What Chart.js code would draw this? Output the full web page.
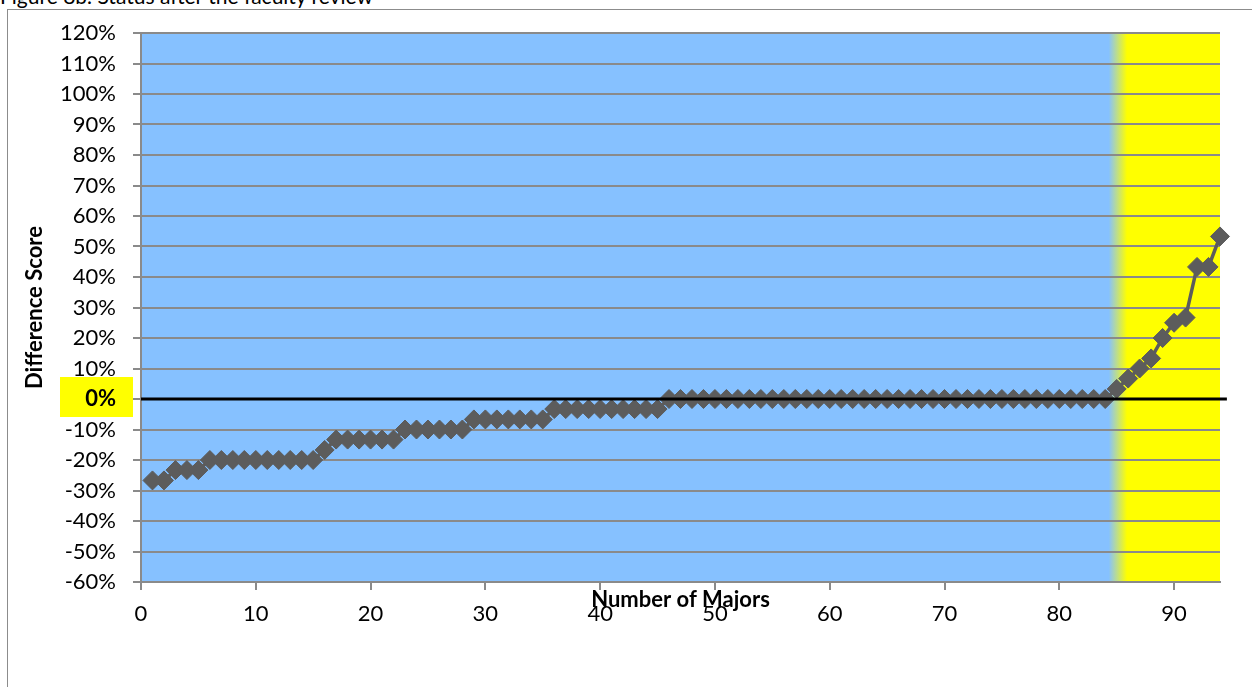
<!DOCTYPE html>
<html>
<head>
<meta charset="utf-8">
<title>Figure 8b. Status after the faculty review</title>
<script src="https://cdn.jsdelivr.net/npm/chart.js@4/dist/chart.umd.min.js"></script>
<style>
  html, body { margin: 0; padding: 0; background: #fff; width: 1252px; height: 687px; overflow: hidden; }
  #caption { position: absolute; left: 0; top: -17px; font: 21px Lato, "Open Sans", sans-serif; color: #000; white-space: nowrap; }
  #frame { position: absolute; left: 7px; top: 9px; width: 1300px; height: 760px; border: 1px solid #8c8c8c; background: #fff; }
  #c { position: absolute; left: 0; top: 0; }
</style>
</head>
<body>
<div id="caption">Figure 8b. Status after the faculty review</div>
<div id="frame"></div>
<canvas id="c" width="1252" height="687"></canvas>
<script>
// Majors, ranked by difference score
const majors = [
  1, 2, 3, 4, 5, 6, 7, 8, 9, 10,
  11, 12, 13, 14, 15, 16, 17, 18, 19, 20,
  21, 22, 23, 24, 25, 26, 27, 28, 29, 30,
  31, 32, 33, 34, 35, 36, 37, 38, 39, 40,
  41, 42, 43, 44, 45, 46, 47, 48, 49, 50,
  51, 52, 53, 54, 55, 56, 57, 58, 59, 60,
  61, 62, 63, 64, 65, 66, 67, 68, 69, 70,
  71, 72, 73, 74, 75, 76, 77, 78, 79, 80,
  81, 82, 83, 84, 85, 86, 87, 88, 89, 90,
  91, 92, 93, 94
];

// Difference score per major, in percent
const scores = [
  -26.7, -26.7, -23.3, -23.3, -23.3, -20, -20, -20, -20, -20,
  -20, -20, -20, -20, -20, -16.7, -13.3, -13.3, -13.3, -13.3,
  -13.3, -13.3, -10, -10, -10, -10, -10, -10, -6.7, -6.7,
  -6.7, -6.7, -6.7, -6.7, -6.7, -3.3, -3.3, -3.3, -3.3, -3.3,
  -3.3, -3.3, -3.3, -3.3, -3.3, 0, 0, 0, 0, 0,
  0, 0, 0, 0, 0, 0, 0, 0, 0, 0,
  0, 0, 0, 0, 0, 0, 0, 0, 0, 0,
  0, 0, 0, 0, 0, 0, 0, 0, 0, 0,
  0, 0, 0, 0, 3.3, 6.7, 10, 13.3, 20, 25,
  26.7, 43.3, 43.3, 53.3
];

// Reference line at zero difference
const zeroLineX = [0, 94.6];
const zeroLineY = [0, 0];

const xTicks = [0, 10, 20, 30, 40, 50, 60, 70, 80, 90];
const yMin = -60, yMax = 120, yStep = 10;

const FONT = 'Lato, "Open Sans", sans-serif';
const GRID = '#8a8a8a';

// Blue field fading to yellow for the majors above zero, plus the highlight behind the 0% label
const plotBackground = {
  id: 'plotBackground',
  beforeDraw(chart) {
    const { ctx, chartArea: a, scales: { x, y } } = chart;
    const g = ctx.createLinearGradient(x.getPixelForValue(84.3), 0, x.getPixelForValue(85.9), 0);
    g.addColorStop(0, '#86c1ff');
    g.addColorStop(1, '#ffff00');
    ctx.save();
    ctx.fillStyle = g;
    ctx.fillRect(a.left, a.top, a.right - a.left, a.bottom - a.top);
    const y0 = y.getPixelForValue(0);
    ctx.fillStyle = '#ffff00';
    ctx.fillRect(60, y0 - 22, a.left - 8 - 60, 40);
    ctx.restore();
  }
};

new Chart(document.getElementById('c'), {
  type: 'line',
  data: {
    datasets: [
      {
        label: 'Zero',
        data: zeroLineX.map((v, i) => ({ x: v, y: zeroLineY[i] })),
        borderColor: '#000',
        borderWidth: 3,
        pointRadius: 0,
        clip: false
      },
      {
        label: 'Difference Score',
        data: majors.map((m, i) => ({ x: m, y: scores[i] })),
        borderColor: '#5c5c5c',
        borderWidth: 3.5,
        backgroundColor: '#5c5c5c',
        pointStyle: 'rectRot',
        pointRadius: 9.5,
        pointBackgroundColor: '#5c5c5c',
        pointBorderColor: '#5c5c5c',
        pointBorderWidth: 1,
        tension: 0,
        clip: false
      }
    ]
  },
  options: {
    responsive: false,
    devicePixelRatio: 1,
    animation: false,
    layout: { padding: { left: 0, top: 33, right: 32, bottom: 0 } },
    plugins: {
      legend: { display: false },
      tooltip: { enabled: false }
    },
    scales: {
      x: {
        type: 'linear',
        min: 0,
        max: 94,
        afterBuildTicks: (s) => { s.ticks = xTicks.map(v => ({ value: v })); },
        afterFit: (s) => { s.height = 105; },
        ticks: {
          includeBounds: false,
          color: '#000',
          font: { family: FONT, size: 22 },
          padding: 11,
          maxRotation: 0
        },
        grid: {
          drawOnChartArea: false,
          drawTicks: true,
          tickLength: 8,
          color: GRID,
          lineWidth: 2
        },
        border: { color: GRID, width: 2 },
        title: {
          display: true,
          text: 'Number of Majors',
          color: '#000',
          font: { family: FONT, size: 22, weight: 'bold' },
          padding: { top: 0, bottom: 74 }
        }
      },
      y: {
        min: yMin,
        max: yMax,
        afterFit: (s) => { s.width = 141; },
        ticks: {
          stepSize: yStep,
          color: '#000',
          padding: 17,
          callback: (v) => v + '%',
          font: (ctx) => ({
            family: FONT,
            size: 22,
            weight: ctx.tick && ctx.tick.value === 0 ? 'bold' : 'normal'
          })
        },
        grid: {
          color: GRID,
          lineWidth: 2,
          tickLength: 8
        },
        border: { color: GRID, width: 2 },
        title: {
          display: true,
          text: 'Difference Score',
          color: '#000',
          font: { family: FONT, size: 22, weight: 'bold' },
          padding: { top: 22, bottom: 0 }
        }
      }
    }
  },
  plugins: [plotBackground]
});
</script>
</body>
</html>
